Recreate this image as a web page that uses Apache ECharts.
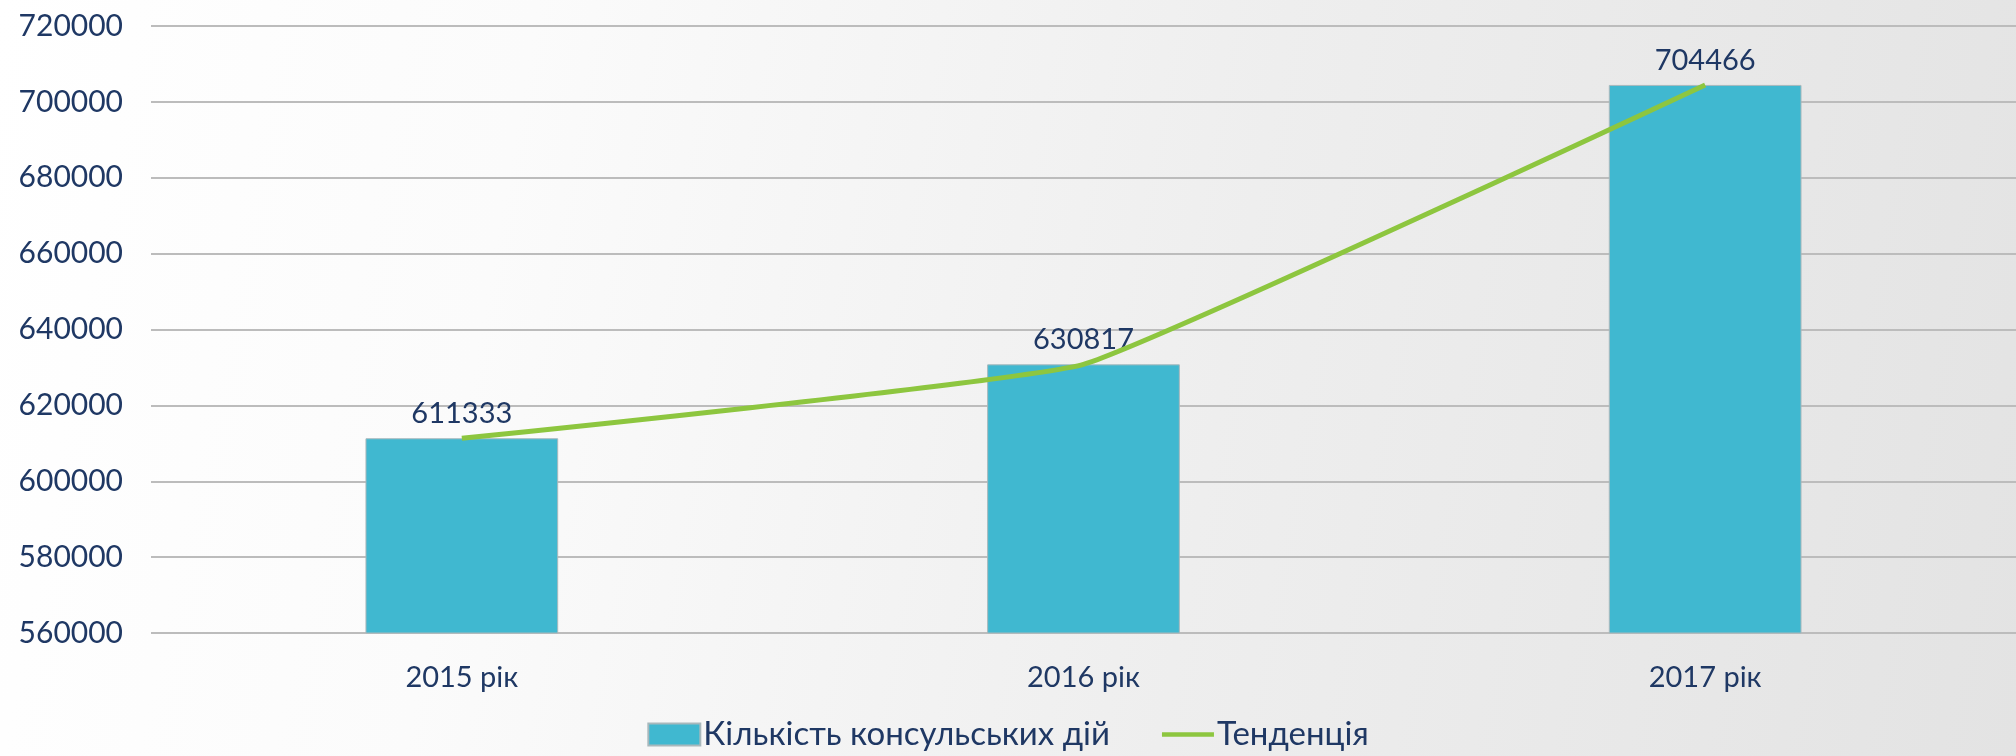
<!DOCTYPE html>
<html>
<head>
<meta charset="utf-8">
<script src="https://cdn.jsdelivr.net/npm/echarts@6/dist/echarts.min.js"></script>
<style>
  html, body { margin: 0; padding: 0; }
  #chart {
    width: 2016px; height: 756px;
    background: linear-gradient(100deg, #ffffff 0%, #fbfbfb 25%, #eeeeee 60%, #e3e3e3 100%);
  }
</style>
</head>
<body>
<div id="chart"></div>
<script>
// Дані
const years = ['2015 рік', '2016 рік', '2017 рік'];
const actions = [611333, 630817, 704466];
const trend = [611333, 630817, 704466];

const textColor = '#1f3864';
const fontName = 'Lato, "Noto Sans", sans-serif';

// тонка лінія по центру іконки легенди (moveTo задають розмір рамки)
const lineIcon = 'path://M0,0 M0,8.5 L58,8.5 L58,13.5 L0,13.5 Z M58,22';

const chart = echarts.init(document.getElementById('chart'));

chart.setOption({
    backgroundColor: 'transparent',
    textStyle: { fontFamily: fontName, color: textColor },
    grid: { left: 151, right: 0, top: 26, bottom: 123 },
    legend: {
        bottom: 0,
        left: 'center',
        itemWidth: 52,
        itemHeight: 22,
        itemGap: 52,
        textStyle: { fontSize: 33, color: textColor, fontFamily: fontName, padding: [0, 0, 0, -2] },
        data: [
            { name: 'Кількість консульських дій', icon: 'rect' },
            { name: 'Тенденція', icon: lineIcon, itemStyle: { color: '#8dc63f' } }
        ]
    },
    xAxis: {
        type: 'category',
        data: years,
        axisLine: { show: false },
        axisTick: { show: false },
        axisLabel: { fontSize: 29, color: textColor, margin: 30 }
    },
    yAxis: {
        type: 'value',
        min: 560000,
        max: 720000,
        interval: 20000,
        axisLine: { show: false },
        axisTick: { show: false },
        axisLabel: { fontSize: 30, color: textColor, margin: 28, formatter: v => String(v) },
        splitLine: { lineStyle: { color: '#bcbcbc', width: 2 } }
    },
    series: [
        {
            name: 'Кількість консульських дій',
            type: 'bar',
            data: actions,
            barWidth: '31%',
            itemStyle: { color: '#40b8d0', borderColor: '#a8b8bc', borderWidth: 1 },
            label: {
                show: true,
                position: 'top',
                distance: 10,
                fontSize: 29,
                color: textColor
            }
        },
        {
            name: 'Тенденція',
            type: 'line',
            data: trend,
            smooth: 0.1,
            symbol: 'none',
            lineStyle: { color: '#8dc63f', width: 5 },
            itemStyle: { color: '#8dc63f' },
            z: 3
        }
    ]
});
</script>
</body>
</html>
